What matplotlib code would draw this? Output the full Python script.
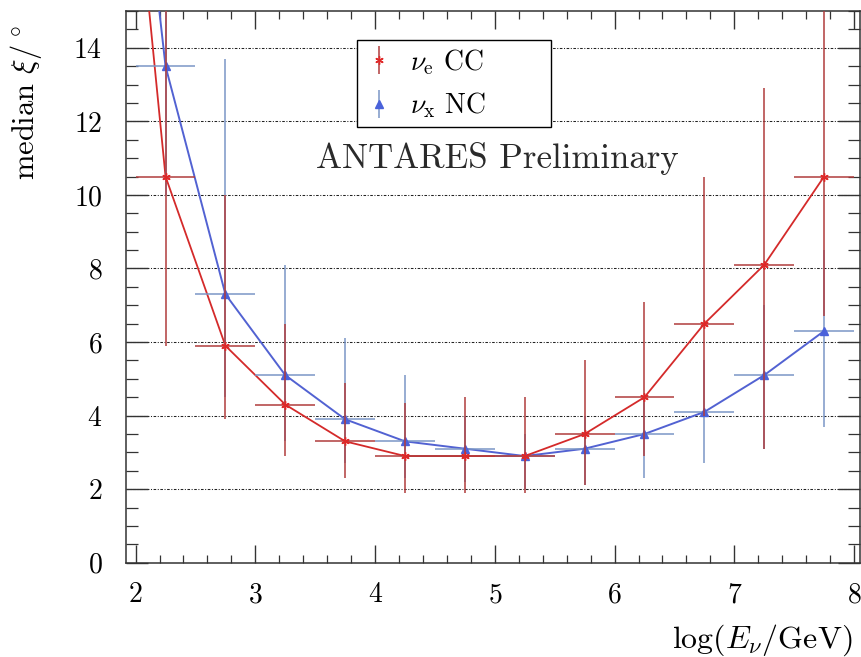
import matplotlib
matplotlib.use('Agg')
import matplotlib.pyplot as plt
from matplotlib.container import ErrorbarContainer
from matplotlib.legend_handler import HandlerErrorbar
import numpy as np

plt.rcParams['font.family'] = 'serif'
plt.rcParams['font.serif'] = ['cmr10']
plt.rcParams['mathtext.fontset'] = 'cm'
plt.rcParams['axes.formatter.use_mathtext'] = True

''' Data '''
# bin centres in log(E/GeV), first bin lies left of the axis range
log_e = [1.75, 2.25, 2.75, 3.25, 3.75, 4.25, 4.75, 5.25, 5.75, 6.25, 6.75, 7.25, 7.75]
bin_half = [0.25] * 13

cc_median = [27.0, 10.5, 5.9, 4.3, 3.3, 2.9, 2.9, 2.9, 3.5, 4.5, 6.5, 8.1, 10.5]
cc_low = [20.0, 5.9, 3.9, 2.9, 2.3, 1.9, 1.9, 1.9, 2.1, 2.9, 4.0, 3.1, 6.7]
cc_high = [35.0, 16.0, 10.0, 6.5, 4.9, 4.35, 4.5, 4.5, 5.5, 7.1, 10.5, 12.9, 16.0]

nc_median = [28.0, 13.5, 7.3, 5.1, 3.9, 3.3, 3.1, 2.9, 3.1, 3.5, 4.1, 5.1, 6.3]
nc_low = [20.0, 10.0, 4.5, 3.3, 2.7, 2.3, 2.2, 2.0, 2.1, 2.3, 2.7, 3.1, 3.7]
nc_high = [35.0, 16.0, 13.7, 8.1, 6.1, 5.1, 4.0, 3.5, 4.0, 4.5, 5.5, 7.0, 8.5]

y_ticks = [0, 2, 4, 6, 8, 10, 12, 14]
x_ticks = [2, 3, 4, 5, 6, 7, 8]

''' Plot '''
fig = plt.figure(figsize=(8.62, 6.57), dpi=100)
ax = fig.add_axes([0.1462, 0.1435, 0.8515, 0.8397])

for yv in y_ticks[1:]:
    ax.axhline(yv, color='#222222', lw=0.75, ls=(0, (2.5, 1.5, 1, 1.5)), zorder=1)

nc_err = [np.array(nc_median) - np.array(nc_low), np.array(nc_high) - np.array(nc_median)]
cc_err = [np.array(cc_median) - np.array(cc_low), np.array(cc_high) - np.array(cc_median)]

ax.plot(log_e, nc_median, color='#5262d2', lw=1.4, zorder=3)
ax.plot(log_e, cc_median, color='#d42a2a', lw=1.3, zorder=4)

ax.errorbar(log_e, nc_median, xerr=bin_half, yerr=nc_err, linestyle='none', marker='^',
            color='#4a62da', ms=6, ecolor='#7a96c6', elinewidth=1.1, capsize=0, zorder=5,
            label=r'$\nu_{\rm x}$ NC')
ax.errorbar(log_e, cc_median, xerr=bin_half, yerr=cc_err, linestyle='none', marker=(6, 2, 0),
            color='#e02828', ms=6, mew=1.0, ecolor='#b03c3c', elinewidth=1.1, capsize=0,
            zorder=6, label=r'$\nu_{\rm e}$ CC')

ax.text(5.017, 10.73, 'ANTARES Preliminary', fontsize=25, ha='center', va='baseline',
        color='#2a2a2a')

ax.set_xlim(1.92, 8.05)
ax.set_ylim(0, 15)
ax.set_xticks(x_ticks)
ax.set_yticks(y_ticks)
ax.set_xticks(np.arange(2, 8.01, 0.2), minor=True)
ax.set_yticks(np.arange(0, 15.01, 0.5), minor=True)
ax.tick_params(which='both', direction='in', top=True, right=True, labelsize=20,
               color='#333333')
ax.tick_params(axis='x', which='major', length=13, width=1.0, pad=14)
ax.tick_params(axis='x', which='minor', length=6, width=0.9)
ax.tick_params(axis='y', which='major', length=16, width=1.0, pad=17)
ax.tick_params(axis='y', which='minor', length=8.6, width=0.9)
for s in ax.spines.values():
    s.set_linewidth(1.1)
    s.set_color('#333333')

ax.set_xlabel(r'$\log(E_\nu/\mathrm{GeV})$', fontsize=23, loc='right')
ax.xaxis.set_label_coords(0.99, -0.108)
ax.set_ylabel(r'median $\xi/^\circ$', fontsize=22, loc='top')
ax.yaxis.set_label_coords(-0.112, 0.975)

handles, labels = ax.get_legend_handles_labels()
leg = ax.legend(handles[::-1], labels[::-1], loc='upper left',
                bbox_to_anchor=(0.3147, 0.788, 0.2643, 0.1595), mode='expand',
                borderaxespad=0, fontsize=20, frameon=True, fancybox=False, framealpha=1,
                edgecolor='black', handlelength=1.1, handletextpad=0.55,
                borderpad=0.25, labelspacing=0.5,
                handler_map={ErrorbarContainer: HandlerErrorbar(xerr_size=0.0, yerr_size=0.5)})
leg.get_frame().set_linewidth(1.0)

fig.savefig('out.png', dpi=100)
